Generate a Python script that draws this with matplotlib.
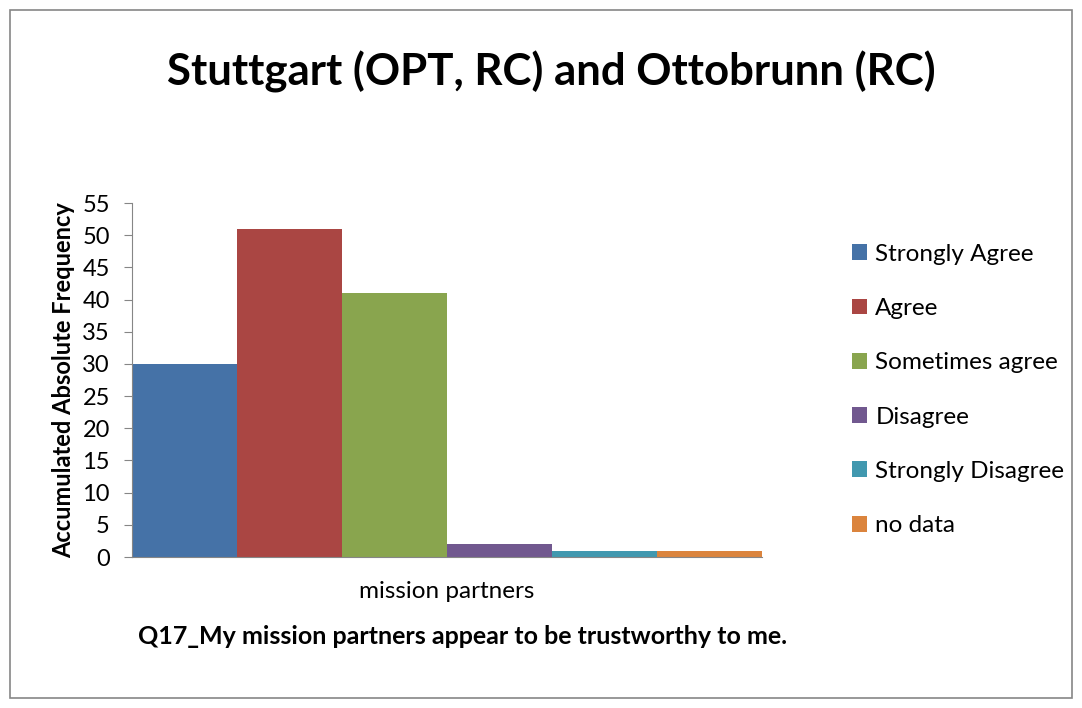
import matplotlib.pyplot as plt
from matplotlib.patches import Rectangle

plt.rcParams['font.family'] = ['Lato', 'DejaVu Sans']

categories = ["mission partners"]
responses = ["Strongly Agree", "Agree", "Sometimes agree", "Disagree", "Strongly Disagree", "no data"]
counts = [30, 51, 41, 2, 1, 1]
colors = ["#4572A7", "#AA4643", "#89A54E", "#71588F", "#4198AF", "#DB843D"]

W, H = 1082, 708
fig = plt.figure(figsize=(W / 100, H / 100), dpi=100)

# outer chart border
fig.patches.append(Rectangle((10 / W, 10 / H), 1062 / W, 688 / H, transform=fig.transFigure,
                             fill=False, edgecolor="#868686", linewidth=1.2))

ax = fig.add_axes([132 / W, (H - 557) / H, 630 / W, 354 / H])

n = len(responses)
w = 1.0 / n
for i, (lab, v, c) in enumerate(zip(responses, counts, colors)):
    ax.bar(-0.5 + w * (i + 0.5), v, width=w, color=c, label=lab)

ax.set_xlim(-0.5, 0.5)
ax.set_ylim(0, 55)
ax.set_yticks(range(0, 56, 5))
ax.set_xticks([])
for s in ["top", "right"]:
    ax.spines[s].set_visible(False)
for s in ["left", "bottom"]:
    ax.spines[s].set_color("#868686")
ax.tick_params(axis="y", labelsize=17, length=6, color="#868686", pad=10)

ax.set_ylabel("Accumulated Absolute Frequency", fontsize=17, fontweight="bold", labelpad=5)

fig.text(447 / W, 1 - 592 / H, categories[0], ha="center", va="center", fontsize=17.5)
fig.text(463 / W, 1 - 636 / H, "Q17_My mission partners appear to be trustworthy to me.",
         ha="center", va="center", fontsize=18, fontweight="bold")
fig.text(551 / W, 1 - 72 / H, "Stuttgart (OPT, RC) and Ottobrunn (RC)",
         ha="center", va="center", fontsize=31.5, fontweight="bold")

fig.legend(loc="upper left", bbox_to_anchor=(842 / W, 1 - 234 / H), frameon=False,
           fontsize=17.5, handlelength=0.62, handleheight=0.62, handletextpad=0.35,
           labelspacing=1.37, borderaxespad=0)

fig.savefig("out.png", dpi=100)
